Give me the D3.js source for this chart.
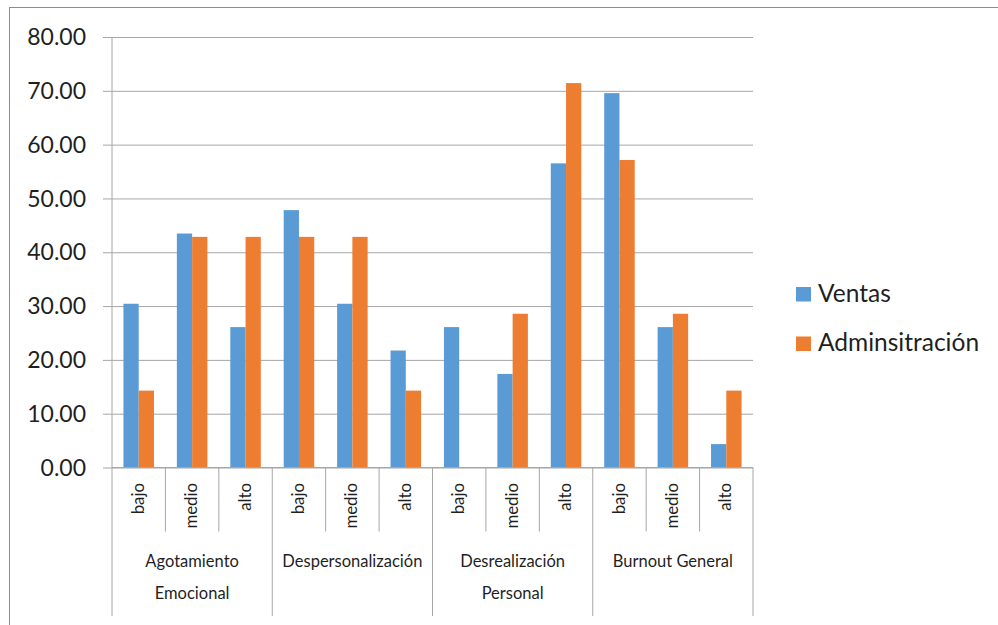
<!DOCTYPE html>
<html>
<head>
<meta charset="utf-8">
<script src="https://cdn.jsdelivr.net/npm/d3@7"></script>
<style>
  html, body { margin: 0; padding: 0; background: #fff; }
  svg { display: block; font-family: Lato, "Open Sans", sans-serif; }
</style>
</head>
<body>
<svg id="chart" width="998" height="625"></svg>
<script>
// Dimensiones del burnout y niveles
const groups = [
  ["Agotamiento", "Emocional"],
  ["Despersonalización"],
  ["Desrealización", "Personal"],
  ["Burnout General"]
];
const levels = ["bajo", "medio", "alto"];
const seriesNames = ["Ventas", "Adminsitración"];
const ventas = [30.43, 43.48, 26.09, 47.83, 30.43, 21.74, 26.09, 17.39, 56.52, 69.57, 26.09, 4.35];
const administracion = [14.29, 42.86, 42.86, 42.86, 42.86, 14.29, 0, 28.57, 71.43, 57.14, 28.57, 14.29];
const yTicks = [0, 10, 20, 30, 40, 50, 60, 70, 80];

const colors = ["#5B9BD5", "#ED7D31"];
const gridColor = "#a6a6a6";
const textColor = "#1f1f1f";

const svg = d3.select("#chart");

// Marco exterior del gráfico
svg.append("rect")
  .attr("x", 9.5).attr("y", 7.5)
  .attr("width", 1200).attr("height", 800)
  .attr("fill", "none").attr("stroke", "#8c8c8c").attr("stroke-width", 1);

const plot = { left: 112, right: 753, top: 37, bottom: 467.5 };

// Categorías: cada nivel dentro de cada dimensión
const cats = [];
groups.forEach((g, gi) => levels.forEach((l, li) => cats.push({ key: gi + "-" + li, group: gi, level: l })));

const x0 = d3.scaleBand()
  .domain(cats.map(d => d.key))
  .range([plot.left, plot.right])
  .padding(0);

const x1 = d3.scaleBand()
  .domain(seriesNames)
  .range([0, x0.bandwidth()])
  .paddingInner(0)
  .paddingOuter(0.75);

const y = d3.scaleLinear().domain([0, 80]).range([plot.bottom, plot.top]);

// Líneas de cuadrícula y eje vertical
const yAxis = d3.axisLeft(y)
  .tickValues(yTicks)
  .tickFormat(d3.format(".2f"))
  .tickSize(-(plot.right - plot.left))
  .tickPadding(0);

const gy = svg.append("g")
  .attr("transform", `translate(${plot.left},0)`)
  .call(yAxis);
gy.select(".domain").remove();
gy.selectAll(".tick line")
  .attr("stroke", gridColor)
  .attr("x1", -9)
  .attr("stroke-width", 1);
gy.selectAll(".tick text")
  .attr("x", -26)
  .attr("dy", "0.33em")
  .attr("fill", textColor)
  .style("font-size", "23px")
  .style("font-family", "Lato, sans-serif");

svg.append("line")
  .attr("x1", plot.left).attr("x2", plot.left)
  .attr("y1", plot.top).attr("y2", plot.bottom)
  .attr("stroke", gridColor);

// Barras
const seriesData = [ventas, administracion];
seriesData.forEach((vals, si) => {
  svg.append("g").selectAll("rect")
    .data(vals)
    .join("rect")
    .attr("x", (d, i) => x0(cats[i].key) + x1(seriesNames[si]))
    .attr("width", x1.bandwidth())
    .attr("y", d => y(d))
    .attr("height", d => y(0) - y(d))
    .attr("fill", colors[si]);
});

// Eje horizontal con separadores en dos niveles
svg.append("line")
  .attr("x1", plot.left).attr("x2", plot.right)
  .attr("y1", plot.bottom).attr("y2", plot.bottom)
  .attr("stroke", gridColor);

const sepLevel = 531.5, sepGroup = 616;
const boundaries = d3.range(cats.length + 1);
svg.append("g").selectAll("line")
  .data(boundaries)
  .join("line")
  .attr("x1", i => plot.left + i * x0.step())
  .attr("x2", i => plot.left + i * x0.step())
  .attr("y1", plot.bottom)
  .attr("y2", i => (i % 3 === 0 ? sepGroup : sepLevel))
  .attr("stroke", gridColor);

// Etiquetas de nivel (giradas)
svg.append("g").selectAll("text")
  .data(cats)
  .join("text")
  .attr("transform", d => `translate(${x0(d.key) + x0.bandwidth() / 2 - 1},483) rotate(-90)`)
  .attr("text-anchor", "end")
  .attr("dy", "0.36em")
  .attr("fill", textColor)
  .style("font-size", "16.8px")
  .text(d => d.level);

// Etiquetas de dimensión
const gLabels = svg.append("g");
groups.forEach((lines, gi) => {
  const cx = plot.left + (gi * 3 + 1.5) * x0.step();
  lines.forEach((t, li) => {
    gLabels.append("text")
      .attr("x", cx)
      .attr("y", 567 + li * 32)
      .attr("text-anchor", "middle")
      .attr("fill", textColor)
      .style("font-size", "16.5px")
      .text(t);
  });
});

// Leyenda
const legend = svg.append("g");
seriesNames.forEach((name, i) => {
  const yy = 287 + i * 49.5;
  legend.append("rect")
    .attr("x", 796).attr("y", yy)
    .attr("width", 15).attr("height", 14.5)
    .attr("fill", colors[i]);
  legend.append("text")
    .attr("x", 818).attr("y", yy + 14.5)
    .attr("fill", textColor)
    .style("font-size", "24.5px")
    .text(name);
});
</script>
</body>
</html>
